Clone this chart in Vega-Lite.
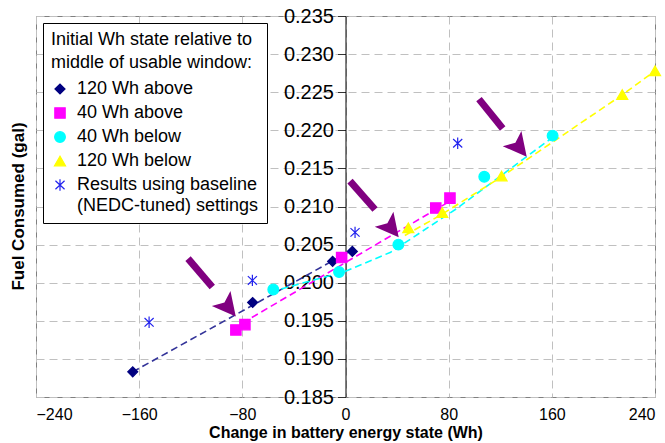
{
  "$schema": "https://vega.github.io/schema/vega-lite/v6.json",
  "width": 619,
  "height": 381,
  "autosize": {"type": "none"},
  "padding": {"left": 36, "top": 16, "right": 10, "bottom": 46},
  "background": "white",
  "config": {
    "font": "Liberation Sans",
    "view": {"stroke": "#808080", "strokeWidth": 1},
    "style": {"guide-label": {"lineHeight": 21}}
  },
  "datasets": {
    "points": [
      {"series": "120 Wh above", "x": -165, "y": 0.1883},
      {"series": "120 Wh above", "x": -72, "y": 0.1974},
      {"series": "120 Wh above", "x": -10, "y": 0.2028},
      {"series": "120 Wh above", "x": 5.3, "y": 0.2041},
      {"series": "40 Wh above", "x": -85, "y": 0.1938},
      {"series": "40 Wh above", "x": -78, "y": 0.1945},
      {"series": "40 Wh above", "x": -3, "y": 0.2033},
      {"series": "40 Wh above", "x": 70, "y": 0.2098},
      {"series": "40 Wh above", "x": 81, "y": 0.2111},
      {"series": "40 Wh below", "x": -56, "y": 0.1991},
      {"series": "40 Wh below", "x": -5, "y": 0.2014},
      {"series": "40 Wh below", "x": 41, "y": 0.2050},
      {"series": "40 Wh below", "x": 107.6, "y": 0.2139},
      {"series": "40 Wh below", "x": 160.6, "y": 0.2193},
      {"series": "120 Wh below", "x": 48.7, "y": 0.2072},
      {"series": "120 Wh below", "x": 75, "y": 0.2092},
      {"series": "120 Wh below", "x": 121, "y": 0.2140},
      {"series": "120 Wh below", "x": 214.6, "y": 0.2247},
      {"series": "120 Wh below", "x": 240, "y": 0.2278},
      {"series": "Results using baseline (NEDC-tuned) settings", "x": -152.3, "y": 0.1948},
      {"series": "Results using baseline (NEDC-tuned) settings", "x": -72.2, "y": 0.2003},
      {"series": "Results using baseline (NEDC-tuned) settings", "x": 7.4, "y": 0.2066},
      {"series": "Results using baseline (NEDC-tuned) settings", "x": 87, "y": 0.2183}
    ],
    "lines": [
      {"line": "120 above", "x": -165, "y": 0.1883},
      {"line": "120 above", "x": 5.3, "y": 0.2043},
      {"line": "40 above", "x": -80, "y": 0.1947},
      {"line": "40 above", "x": 82, "y": 0.2108},
      {"line": "40 below", "x": -58, "y": 0.1988},
      {"line": "40 below", "x": 0, "y": 0.2015},
      {"line": "40 below", "x": 35, "y": 0.2040},
      {"line": "40 below", "x": 86, "y": 0.2097},
      {"line": "40 below", "x": 160, "y": 0.2190},
      {"line": "120 below", "x": 46, "y": 0.2062},
      {"line": "120 below", "x": 75, "y": 0.2090},
      {"line": "120 below", "x": 121, "y": 0.2139},
      {"line": "120 below", "x": 215, "y": 0.2247},
      {"line": "120 below", "x": 240, "y": 0.2278}
    ],
    "arrows": [
      {"x": -122.1, "y": 0.20316, "x2": -103.3, "y2": 0.19944, "hx": -92.4, "hy": 0.19709},
      {"x": 3.5, "y": 0.21333, "x2": 22.9, "y2": 0.20961, "hx": 33.95, "hy": 0.20749},
      {"x": 103.5, "y": 0.22409, "x2": 121.9, "y2": 0.22023, "hx": 133.2, "hy": 0.21806}
    ]
  },
  "encoding": {
    "x": {
      "field": "x", "type": "quantitative",
      "scale": {"domain": [-240, 240], "nice": false, "zero": false},
      "axis": {
        "values": [-240, -160, -80, 0, 80, 160, 240],
        "title": "Change in battery energy state (Wh)",
        "titleFontSize": 16, "titleFontWeight": "bold", "titleColor": "black", "titlePadding": 2,
        "labelFontSize": 16, "labelColor": "black", "labelPadding": 9,
        "domain": false, "ticks": false,
        "grid": true, "gridColor": "#c0c0c0", "gridDash": [8, 5], "gridWidth": 1
      }
    },
    "y": {
      "field": "y", "type": "quantitative",
      "scale": {"domain": [0.185, 0.235], "nice": false, "zero": false},
      "axis": {
        "values": [0.185, 0.19, 0.195, 0.2, 0.205, 0.21, 0.215, 0.22, 0.225, 0.23, 0.235],
        "format": ".3f",
        "offset": -309.5,
        "title": "Fuel Consumed (gal)",
        "titleFontSize": 17, "titleFontWeight": "bold", "titleColor": "black",
        "titleX": -327, "titleY": 190, "titleAngle": -90, "titleAlign": "center", "titleBaseline": "middle",
        "labelFontSize": 20, "labelColor": "black", "labelPadding": 4,
        "domain": true, "domainColor": "black", "domainWidth": 1,
        "ticks": true, "tickColor": "#333333", "tickSize": 8,
        "grid": true, "gridColor": "#c0c0c0", "gridDash": [8, 5], "gridWidth": 1
      }
    }
  },
  "layer": [
    {
      "data": {"name": "lines"},
      "mark": {"type": "line", "strokeDash": [7, 4], "strokeWidth": 1.6},
      "encoding": {
        "color": {
          "field": "line", "type": "nominal",
          "scale": {"domain": ["120 above", "40 above", "40 below", "120 below"], "range": ["#333399", "#FF00FF", "#00FFFF", "#FFFF00"]},
          "legend": null
        },
        "order": {"field": "x", "type": "quantitative"}
      }
    },
    {
      "data": {"name": "arrows"},
      "mark": {"type": "rule", "color": "#800080", "strokeWidth": 7},
      "encoding": {
        "x2": {"field": "x2"},
        "y2": {"field": "y2"}
      }
    },
    {
      "data": {"name": "arrows"},
      "mark": {"type": "point", "filled": true, "color": "#800080", "opacity": 1, "size": 900, "angle": 321,
               "shape": "M0,1L-0.8,-0.55L0,-0.2L0.8,-0.55Z"},
      "encoding": {
        "x": {"field": "hx", "type": "quantitative"},
        "y": {"field": "hy", "type": "quantitative"}
      }
    },
    {
      "data": {"name": "points"},
      "mark": {"type": "point", "filled": true, "opacity": 1, "strokeWidth": 1.2},
      "encoding": {
        "fill": {
          "field": "series", "type": "nominal",
          "scale": {
            "domain": ["120 Wh above", "40 Wh above", "40 Wh below", "120 Wh below", "Results using baseline (NEDC-tuned) settings"],
            "range": ["#000080", "#FF00FF", "#00FFFF", "#FFFF00", "#2222EE"]
          },
          "legend": {
            "title": ["Initial Wh state relative to", "middle of usable window:"]
          }
        },
        "stroke": {
          "field": "series", "type": "nominal",
          "scale": {
            "domain": ["120 Wh above", "40 Wh above", "40 Wh below", "120 Wh below", "Results using baseline (NEDC-tuned) settings"],
            "range": ["#000080", "#FF00FF", "#00FFFF", "#FFFF00", "#2222EE"]
          },
          "legend": {
            "title": ["Initial Wh state relative to", "middle of usable window:"]
          }
        },
        "shape": {
          "field": "series", "type": "nominal",
          "scale": {
            "domain": ["120 Wh above", "40 Wh above", "40 Wh below", "120 Wh below", "Results using baseline (NEDC-tuned) settings"],
            "range": ["diamond", "square", "circle", "triangle-up", "M0,-1L0,1M-0.8,-0.75L0.8,0.75M-0.8,0.75L0.8,-0.75"]
          },
          "legend": {
            "title": ["Initial Wh state relative to", "middle of usable window:"]
          }
        },
        "size": {
          "field": "series", "type": "nominal",
          "scale": {
            "domain": ["120 Wh above", "40 Wh above", "40 Wh below", "120 Wh below", "Results using baseline (NEDC-tuned) settings"],
            "range": [100, 130, 140, 160, 520]
          },
          "legend": {
            "title": ["Initial Wh state relative to", "middle of usable window:"],
            "orient": "top-left",
            "offset": 7,
            "fillColor": "white",
            "strokeColor": "black",
            "padding": 8,
            "titleFontSize": 18, "titleFontWeight": "normal", "titleColor": "black", "titleLimit": 400, "titleLineHeight": 23, "titlePadding": 8,
            "labelFontSize": 18, "labelColor": "black", "labelLimit": 400, "labelOffset": 8,
            "labelExpr": "datum.label == 'Results using baseline (NEDC-tuned) settings' ? ['Results using baseline', '(NEDC-tuned) settings'] : datum.label",
            "rowPadding": 6,
            "symbolStrokeWidth": 1.2
          }
        }
      }
    }
  ]
}
